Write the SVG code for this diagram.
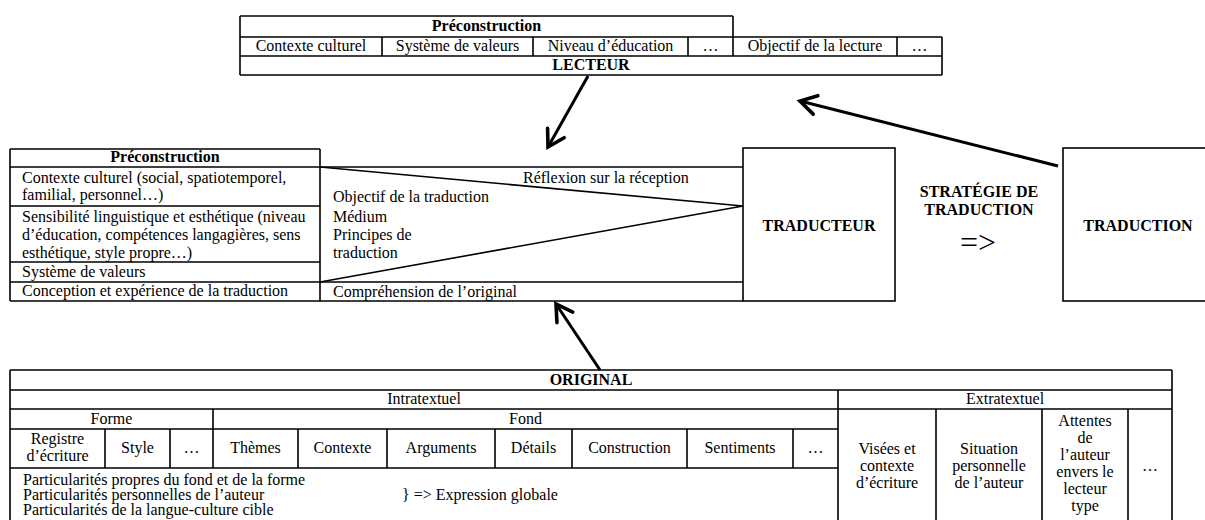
<svg xmlns="http://www.w3.org/2000/svg" width="1205" height="520" viewBox="0 0 1205 520">
  <style>
    .ln { stroke: #000; stroke-width: 1.6; fill: none; }
    .t { font-family: "Liberation Serif", "Times New Roman", serif; font-size: 16px; fill: #000; }
    .b { font-weight: bold; }
    .c { text-anchor: middle; }
    .arrow { stroke: #000; stroke-width: 3; fill: none; marker-end: url(#chev); }
  </style>
  <defs>
    <marker id="chev" markerUnits="userSpaceOnUse" viewBox="-22 -14 26 28" refX="0" refY="0" markerWidth="26" markerHeight="28" orient="auto">
      <path d="M-16,-9.5 L0,0 L-16,9.5" fill="none" stroke="#000" stroke-width="3.6" stroke-linecap="round"/>
    </marker>
  </defs>
  <rect width="1205" height="520" fill="#fff"/>

  <!-- Reader: preconstruction table -->
  <g id="lecteur">
    <path class="ln" d="M240,16 H733 M240,37 H942 M240,56 H942 M240,75 H942 M240,16 V75 M733,16 V56 M942,37 V75 M382,37 V56 M533,37 V56 M688,37 V56 M897,37 V56"/>
    <text class="t b c" x="486.5" y="31">Préconstruction</text>
    <text class="t c" x="311" y="51">Contexte culturel</text>
    <text class="t c" x="457.5" y="51">Système de valeurs</text>
    <text class="t c" x="610.5" y="51">Niveau d’éducation</text>
    <text class="t c" x="710.5" y="51">…</text>
    <text class="t c" x="815" y="51">Objectif de la lecture</text>
    <text class="t c" x="919.5" y="51">…</text>
    <text class="t b c" x="591" y="70">LECTEUR</text>
  </g>

  <!-- Translator: preconstruction and reflection table -->
  <g id="preconstruction-traducteur">
    <path class="ln" d="M10,149 H320 M10,167 H743 M10,206 H320 M10,262 H320 M10,282 H743 M10,301 H743 M10,149 V301 M320,149 V301"/>
    <path class="ln" d="M320,167 L743,206 L320,282"/>
    <text class="t b c" x="165" y="162">Préconstruction</text>
    <text class="t" x="22" y="183">Contexte culturel (social, spatiotemporel,</text>
    <text class="t" x="22" y="200">familial, personnel…)</text>
    <text class="t" x="22" y="222">Sensibilité linguistique et esthétique (niveau</text>
    <text class="t" x="22" y="240">d’éducation, compétences langagières, sens</text>
    <text class="t" x="22" y="258">esthétique, style propre…)</text>
    <text class="t" x="22" y="277">Système de valeurs</text>
    <text class="t" x="22" y="296">Conception et expérience de la traduction</text>
    <text class="t" x="523" y="183">Réflexion sur la réception</text>
    <text class="t" x="333" y="202">Objectif de la traduction</text>
    <text class="t" x="333" y="222">Médium</text>
    <text class="t" x="333" y="240">Principes de</text>
    <text class="t" x="333" y="258">traduction</text>
    <text class="t" x="333" y="297">Compréhension de l’original</text>
  </g>

  <g id="traducteur">
    <rect class="ln" x="743" y="148" width="152" height="153"/>
    <text class="t b c" x="819" y="231">TRADUCTEUR</text>
  </g>

  <g id="strategie">
    <text class="t b c" x="979" y="197">STRATÉGIE DE</text>
    <text class="t b c" x="979" y="215">TRADUCTION</text>
    <text class="t c" x="978" y="253" style="font-size:32px">=&gt;</text>
  </g>

  <g id="traduction">
    <rect class="ln" x="1063" y="148" width="152" height="153"/>
    <text class="t b c" x="1138" y="231">TRADUCTION</text>
  </g>

  <!-- Source text analysis table -->
  <g id="original">
    <path class="ln" d="M10,370 H1172 M10,390 H1172 M10,409 H1172 M10,429 H838 M10,468 H838 M10,370 V522 M1172,370 V522 M838,390 V522 M936,409 V522 M1042,409 V522 M1128,409 V522 M213,409 V468 M105,429 V468 M170,429 V468 M298,429 V468 M387,429 V468 M495,429 V468 M572,429 V468 M687,429 V468 M793,429 V468"/>
    <text class="t b c" x="591" y="385">ORIGINAL</text>
    <text class="t c" x="424" y="404">Intratextuel</text>
    <text class="t c" x="1005" y="404">Extratextuel</text>
    <text class="t c" x="111.5" y="424">Forme</text>
    <text class="t c" x="525.5" y="424">Fond</text>
    <text class="t c" x="57.5" y="444">Registre</text>
    <text class="t c" x="57.5" y="461">d’écriture</text>
    <text class="t c" x="137.5" y="453">Style</text>
    <text class="t c" x="191.5" y="453">…</text>
    <text class="t c" x="255.5" y="453">Thèmes</text>
    <text class="t c" x="342.5" y="453">Contexte</text>
    <text class="t c" x="441" y="453">Arguments</text>
    <text class="t c" x="533.5" y="453">Détails</text>
    <text class="t c" x="629.5" y="453">Construction</text>
    <text class="t c" x="740" y="453">Sentiments</text>
    <text class="t c" x="815.5" y="453">…</text>
    <text class="t c" x="887" y="454">Visées et</text>
    <text class="t c" x="887" y="471">contexte</text>
    <text class="t c" x="887" y="488">d’écriture</text>
    <text class="t c" x="989" y="454">Situation</text>
    <text class="t c" x="989" y="471">personnelle</text>
    <text class="t c" x="989" y="488">de l’auteur</text>
    <text class="t c" x="1085" y="426">Attentes</text>
    <text class="t c" x="1085" y="443">de</text>
    <text class="t c" x="1085" y="460">l’auteur</text>
    <text class="t c" x="1085" y="477">envers le</text>
    <text class="t c" x="1085" y="494">lecteur</text>
    <text class="t c" x="1085" y="511">type</text>
    <text class="t c" x="1150" y="471">…</text>
    <text class="t" x="23" y="485">Particularités propres du fond et de la forme</text>
    <text class="t" x="23" y="500">Particularités personnelles de l’auteur</text>
    <text class="t" x="23" y="515">Particularités de la langue-culture cible</text>
    <text class="t" x="402" y="500">} =&gt; Expression globale</text>
  </g>

  <g id="connectors">
    <path class="arrow" d="M588,76 L548,147"/>
    <path class="arrow" d="M1058,166 L800,101"/>
    <path class="arrow" d="M600,370 L556,304"/>
  </g>
</svg>
